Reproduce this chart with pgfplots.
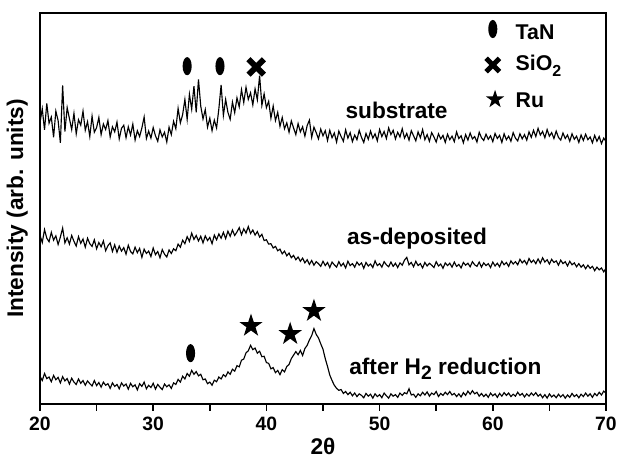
\documentclass[border=0pt]{standalone}
\usepackage{fontspec}
\setmainfont{Liberation Sans}
\usepackage{pgfplots}
\pgfplotsset{compat=1.18}
\pgfdeclareplotmark{tanell}{%
  \pgfpathellipse{\pgfpointorigin}{\pgfqpoint{0.5\pgfplotmarksize}{0pt}}{\pgfqpoint{0pt}{\pgfplotmarksize}}%
  \pgfusepathqfill}
\pgfdeclareplotmark{boldx}{%
  \pgfsetlinewidth{0.75\pgfplotmarksize}\pgfsetbuttcap
  \pgfpathmoveto{\pgfqpoint{-\pgfplotmarksize}{-\pgfplotmarksize}}%
  \pgfpathlineto{\pgfqpoint{\pgfplotmarksize}{\pgfplotmarksize}}%
  \pgfpathmoveto{\pgfqpoint{-\pgfplotmarksize}{\pgfplotmarksize}}%
  \pgfpathlineto{\pgfqpoint{\pgfplotmarksize}{-\pgfplotmarksize}}%
  \pgfusepathqstroke}
\pgfdeclareplotmark{fstar}{%
  \pgfpathmoveto{\pgfqpoint{0pt}{\pgfplotmarksize}}%
  \pgfpathlineto{\pgfqpoint{-0.2245\pgfplotmarksize}{0.3090\pgfplotmarksize}}%
  \pgfpathlineto{\pgfqpoint{-0.9511\pgfplotmarksize}{0.3090\pgfplotmarksize}}%
  \pgfpathlineto{\pgfqpoint{-0.3633\pgfplotmarksize}{-0.1180\pgfplotmarksize}}%
  \pgfpathlineto{\pgfqpoint{-0.5878\pgfplotmarksize}{-0.8090\pgfplotmarksize}}%
  \pgfpathlineto{\pgfqpoint{0pt}{-0.382\pgfplotmarksize}}%
  \pgfpathlineto{\pgfqpoint{0.5878\pgfplotmarksize}{-0.8090\pgfplotmarksize}}%
  \pgfpathlineto{\pgfqpoint{0.3633\pgfplotmarksize}{-0.1180\pgfplotmarksize}}%
  \pgfpathlineto{\pgfqpoint{0.9511\pgfplotmarksize}{0.3090\pgfplotmarksize}}%
  \pgfpathlineto{\pgfqpoint{0.2245\pgfplotmarksize}{0.3090\pgfplotmarksize}}%
  \pgfpathclose
  \pgfusepathqfill}
\newcommand{\lblfont}{\fontsize{17}{17}\selectfont\bfseries}
\newcommand{\legfont}{\fontsize{16}{16}\selectfont\bfseries}
\begin{document}
\begin{tikzpicture}
\path[use as bounding box] (-30pt,-43.5pt) rectangle (434.25pt,303pt);
\begin{axis}[
  scale only axis, width=424.5pt, height=293.25pt,
  xmin=20, xmax=70, ymin=0, ymax=100,
  axis line style={line width=1.3pt},
  xtick={20,30,40,50,60,70}, minor xtick={25,35,45,55,65},
  ytick=\empty,
  tick align=outside, xtick pos=bottom,
  major tick length=5pt, minor tick length=5pt,
  every tick/.style={line width=1.2pt, black},
  /pgf/number format/assume math mode=true,
  ticklabel style={font=\fontsize{14.5}{14.5}\selectfont\bfseries},
  xticklabel style={yshift=-1pt},
  xlabel={2θ},
  xlabel style={font=\fontsize{17}{17}\selectfont\bfseries, at={(axis description cs:0.5,0)}, anchor=center, yshift=-32pt},
  ylabel={Intensity (arb. units)},
  ylabel style={font=\fontsize{17}{17}\selectfont\bfseries, at={(axis description cs:0,0.5)}, anchor=center, rotate=0, yshift=17pt},
  clip=false,
]
% substrate
\addplot[black, line width=0.85pt, mark=none] coordinates {
(20.0,72.0)(20.2,75.5)(20.4,70.1)(20.6,76.9)(20.8,71.8)(21.0,73.4)(21.2,68.2)(21.4,74.9)(21.6,72.5)(21.8,66.8)
(22.0,81.5)(22.2,69.7)(22.4,75.8)(22.6,73.0)(22.8,70.2)(23.0,74.3)(23.2,69.1)(23.4,72.7)(23.6,71.3)(23.8,74.9)
(24.0,70.0)(24.2,72.2)(24.4,68.4)(24.6,73.6)(24.8,69.5)(25.0,70.7)(25.2,73.3)(25.4,68.9)(25.6,71.6)(25.8,70.2)
(26.0,72.5)(26.2,68.3)(26.4,70.9)(26.6,69.6)(26.8,72.1)(27.0,67.8)(27.2,70.5)(27.4,71.3)(27.6,68.1)(27.8,70.9)
(28.0,68.8)(28.2,71.6)(28.4,67.5)(28.6,69.9)(28.8,68.4)(29.0,70.6)(29.2,73.4)(29.4,67.9)(29.6,69.8)(29.8,68.0)
(30.0,70.7)(30.2,68.6)(30.4,67.2)(30.6,70.1)(30.8,68.3)(31.0,69.5)(31.2,67.0)(31.4,70.8)(31.6,68.9)(31.8,72.3)
(32.0,70.4)(32.2,75.6)(32.4,71.9)(32.6,74.0)(32.8,77.9)(33.0,72.8)(33.2,79.2)(33.4,75.4)(33.6,81.3)(33.8,74.6)
(34.0,83.0)(34.2,76.2)(34.4,72.9)(34.6,75.3)(34.8,70.8)(35.0,73.1)(35.2,69.9)(35.4,72.6)(35.6,70.6)(35.8,75.5)
(36.0,81.6)(36.2,73.8)(36.4,77.9)(36.6,74.6)(36.8,72.8)(37.0,77.2)(37.2,74.5)(37.4,78.3)(37.6,76.0)(37.8,80.4)
(38.0,77.1)(38.2,81.0)(38.4,77.9)(38.6,79.6)(38.8,76.5)(39.0,80.6)(39.2,77.8)(39.4,84.0)(39.6,76.4)(39.8,79.3)
(40.0,75.8)(40.2,77.4)(40.4,73.1)(40.6,76.2)(40.8,72.5)(41.0,74.6)(41.2,71.0)(41.4,73.3)(41.6,70.4)(41.8,71.9)
(42.0,69.5)(42.2,72.4)(42.4,70.6)(42.6,68.9)(42.8,71.7)(43.0,69.6)(43.2,70.9)(43.4,68.5)(43.6,71.2)(43.8,72.6)
(44.0,68.2)(44.2,70.8)(44.4,69.4)(44.6,67.8)(44.8,70.3)(45.0,68.6)(45.2,69.9)(45.4,67.4)(45.6,70.0)(45.8,68.1)
(46.0,69.3)(46.2,67.0)(46.4,69.8)(46.6,68.4)(46.8,67.2)(47.0,70.1)(47.2,68.0)(47.4,69.4)(47.6,67.1)(47.8,68.8)
(48.0,67.6)(48.2,70.0)(48.4,68.2)(48.6,66.9)(48.8,69.2)(49.0,67.7)(49.2,69.8)(49.4,68.0)(49.6,69.1)(49.8,67.3)
(50.0,70.2)(50.2,68.4)(50.4,69.7)(50.6,67.9)(50.8,70.6)(51.0,68.9)(51.2,70.0)(51.4,67.8)(51.6,69.5)(51.8,68.3)
(52.0,70.4)(52.2,68.0)(52.4,69.2)(52.6,67.5)(52.8,69.9)(53.0,68.6)(53.2,67.3)(53.4,69.6)(53.6,68.1)(53.8,70.2)
(54.0,67.6)(54.2,68.9)(54.4,67.2)(54.6,69.4)(54.8,68.3)(55.0,67.0)(55.2,69.1)(55.4,67.8)(55.6,68.7)(55.8,66.9)
(56.0,69.0)(56.2,67.6)(56.4,68.5)(56.6,67.1)(56.8,69.6)(57.0,67.9)(57.2,68.6)(57.4,66.8)(57.6,68.9)(57.8,67.5)
(58.0,69.3)(58.2,67.8)(58.4,68.4)(58.6,67.0)(58.8,69.5)(59.0,68.1)(59.2,67.4)(59.4,69.0)(59.6,67.7)(59.8,68.6)
(60.0,67.1)(60.2,69.2)(60.4,67.9)(60.6,68.7)(60.8,66.9)(61.0,69.1)(61.2,67.6)(61.4,68.5)(61.6,67.2)(61.8,69.4)
(62.0,68.0)(62.2,67.3)(62.4,69.1)(62.6,67.8)(62.8,68.9)(63.0,67.5)(63.2,69.6)(63.4,68.2)(63.6,70.0)(63.8,68.4)
(64.0,70.5)(64.2,68.8)(64.4,69.7)(64.6,68.1)(64.8,70.2)(65.0,68.5)(65.2,69.4)(65.4,67.9)(65.6,69.8)(65.8,68.2)
(66.0,67.5)(66.2,69.3)(66.4,67.9)(66.6,68.8)(66.8,67.2)(67.0,69.1)(67.2,67.7)(67.4,68.5)(67.6,66.9)(67.8,68.8)
(68.0,67.4)(68.2,69.0)(68.4,67.6)(68.6,68.3)(68.8,66.8)(69.0,68.7)(69.2,67.2)(69.4,68.4)(69.6,66.6)(69.8,68.0)
(70.0,67.1)
};
% as-deposited
\addplot[black, line width=0.85pt, mark=none] coordinates {
(20.0,43.2)(20.2,41.3)(20.4,44.6)(20.6,42.4)(20.8,41.5)(21.0,43.9)(21.2,41.9)(21.4,43.0)(21.6,40.8)(21.8,42.7)
(22.0,45.0)(22.2,41.2)(22.4,42.5)(22.6,40.9)(22.8,43.1)(23.0,41.6)(23.2,40.4)(23.4,42.8)(23.6,41.1)(23.8,42.2)
(24.0,40.1)(24.2,42.4)(24.4,41.0)(24.6,40.3)(24.8,42.0)(25.0,39.7)(25.2,41.3)(25.4,40.2)(25.6,41.7)(25.8,39.2)
(26.0,40.5)(26.2,41.2)(26.4,39.0)(26.6,40.7)(26.8,38.8)(27.0,40.4)(27.2,39.1)(27.4,40.0)(27.6,38.3)(27.8,40.6)
(28.0,39.0)(28.2,38.4)(28.4,40.1)(28.6,38.7)(28.8,39.8)(29.0,37.5)(29.2,39.6)(29.4,38.5)(29.6,39.1)(29.8,37.7)
(30.0,39.9)(30.2,38.2)(30.4,39.0)(30.6,37.4)(30.8,39.5)(31.0,38.3)(31.2,37.6)(31.4,39.4)(31.6,38.5)(31.8,39.7)
(32.0,39.2)(32.2,40.9)(32.4,40.1)(32.6,41.9)(32.8,41.0)(33.0,42.8)(33.2,41.6)(33.4,43.7)(33.6,42.1)(33.8,43.1)
(34.0,41.7)(34.2,42.9)(34.4,41.2)(34.6,43.0)(34.8,41.8)(35.0,42.6)(35.2,41.0)(35.4,43.2)(35.6,42.0)(35.8,43.5)
(36.0,42.4)(36.2,43.9)(36.4,42.3)(36.6,44.2)(36.8,42.9)(37.0,44.5)(37.2,43.1)(37.4,44.0)(37.6,45.1)(37.8,43.3)
(38.0,44.8)(38.2,43.7)(38.4,45.4)(38.6,43.6)(38.8,44.5)(39.0,43.2)(39.2,44.1)(39.4,42.7)(39.6,43.4)(39.8,41.8)
(40.0,42.0)(40.2,40.9)(40.4,41.0)(40.6,39.9)(40.8,40.3)(41.0,39.2)(41.2,39.6)(41.4,38.4)(41.6,39.1)(41.8,37.9)
(42.0,38.6)(42.2,37.4)(42.4,38.0)(42.6,36.9)(42.8,37.6)(43.0,36.5)(43.2,37.3)(43.4,36.1)(43.6,36.9)(43.8,35.7)
(44.0,36.7)(44.2,35.5)(44.4,36.4)(44.6,35.9)(44.8,35.2)(45.0,36.5)(45.2,35.4)(45.4,36.2)(45.6,34.9)(45.8,36.3)
(46.0,35.6)(46.2,35.0)(46.4,36.4)(46.6,35.3)(46.8,36.0)(47.0,34.8)(47.2,36.5)(47.4,35.4)(47.6,35.9)(47.8,35.0)
(48.0,36.3)(48.2,35.5)(48.4,36.1)(48.6,34.7)(48.8,36.2)(49.0,35.3)(49.2,35.8)(49.4,34.9)(49.6,36.6)(49.8,35.4)
(50.0,35.9)(50.2,35.0)(50.4,36.4)(50.6,35.6)(50.8,35.1)(51.0,36.3)(51.2,35.2)(51.4,36.0)(51.6,34.9)(51.8,36.1)
(52.0,35.5)(52.2,36.8)(52.4,37.5)(52.6,35.6)(52.8,36.2)(53.0,35.1)(53.2,36.5)(53.4,35.4)(53.6,35.9)(53.8,34.8)
(54.0,36.2)(54.2,35.3)(54.4,36.0)(54.6,35.5)(54.8,34.9)(55.0,36.4)(55.2,35.3)(55.4,35.8)(55.6,34.7)(55.8,36.1)
(56.0,35.4)(56.2,36.0)(56.4,35.0)(56.6,36.3)(56.8,35.2)(57.0,35.7)(57.2,34.8)(57.4,36.2)(57.6,35.5)(57.8,36.0)
(58.0,35.1)(58.2,36.4)(58.4,35.6)(58.6,35.2)(58.8,36.3)(59.0,35.0)(59.2,36.1)(59.4,35.4)(59.6,35.9)(59.8,34.9)
(60.0,36.3)(60.2,35.3)(60.4,36.0)(60.6,35.1)(60.8,36.5)(61.0,35.6)(61.2,36.2)(61.4,35.2)(61.6,36.6)(61.8,35.8)
(62.0,36.4)(62.2,35.6)(62.4,37.0)(62.6,36.1)(62.8,36.7)(63.0,35.7)(63.2,37.2)(63.4,36.2)(63.6,36.8)(63.8,35.9)
(64.0,37.1)(64.2,36.0)(64.4,37.4)(64.6,36.3)(64.8,36.9)(65.0,35.8)(65.2,37.0)(65.4,36.2)(65.6,36.6)(65.8,35.5)
(66.0,36.8)(66.2,35.9)(66.4,36.4)(66.6,35.3)(66.8,36.5)(67.0,35.6)(67.2,36.1)(67.4,35.1)(67.6,35.9)(67.8,35.0)
(68.0,35.6)(68.2,34.6)(68.4,35.5)(68.6,34.7)(68.8,35.2)(69.0,34.1)(69.2,35.0)(69.4,34.3)(69.6,34.8)(69.8,33.8)
(70.0,34.7)
};
% after H2 reduction
\addplot[black, line width=0.85pt, mark=none] coordinates {
(20.0,7.1)(20.2,6.0)(20.4,7.8)(20.6,6.5)(20.8,6.9)(21.0,5.7)(21.2,7.3)(21.4,6.2)(21.6,6.8)(21.8,5.4)
(22.0,7.0)(22.2,5.9)(22.4,6.5)(22.6,5.1)(22.8,6.6)(23.0,5.6)(23.2,5.0)(23.4,6.4)(23.6,5.3)(23.8,6.0)
(24.0,4.8)(24.2,5.9)(24.4,5.2)(24.6,4.6)(24.8,6.0)(25.0,4.7)(25.2,5.5)(25.4,4.3)(25.6,5.6)(25.8,4.8)
(26.0,5.2)(26.2,4.0)(26.4,5.4)(26.6,4.5)(26.8,5.0)(27.0,3.9)(27.2,5.4)(27.4,4.6)(27.6,5.1)(27.8,3.8)
(28.0,5.3)(28.2,4.4)(28.4,4.9)(28.6,3.6)(28.8,5.2)(29.0,4.5)(29.2,5.6)(29.4,3.9)(29.6,4.8)(29.8,4.2)
(30.0,5.3)(30.2,3.8)(30.4,5.0)(30.6,4.3)(30.8,3.7)(31.0,5.1)(31.2,4.4)(31.4,4.9)(31.6,4.0)(31.8,5.4)
(32.0,5.0)(32.2,6.3)(32.4,5.6)(32.6,7.1)(32.8,6.4)(33.0,7.8)(33.2,7.1)(33.4,8.6)(33.6,7.6)(33.8,8.3)
(34.0,7.2)(34.2,7.6)(34.4,6.2)(34.6,6.4)(34.8,5.2)(35.0,5.6)(35.2,4.8)(35.4,6.1)(35.6,5.7)(35.8,6.9)
(36.0,6.4)(36.2,7.5)(36.4,7.0)(36.6,8.2)(36.8,7.6)(37.0,8.9)(37.2,8.4)(37.4,9.8)(37.6,9.5)(37.8,11.2)
(38.0,11.5)(38.2,13.1)(38.4,13.6)(38.6,15.0)(38.8,13.9)(39.0,14.3)(39.2,13.0)(39.4,13.5)(39.6,12.1)(39.8,12.2)
(40.0,10.6)(40.2,10.4)(40.4,9.0)(40.6,9.3)(40.8,8.0)(41.0,8.6)(41.2,7.5)(41.4,8.8)(41.6,8.2)(41.8,9.6)
(42.0,10.1)(42.2,11.6)(42.4,12.5)(42.6,13.4)(42.8,12.6)(43.0,13.7)(43.2,12.4)(43.4,14.2)(43.6,15.0)(43.8,16.4)
(44.0,17.5)(44.2,19.3)(44.4,17.8)(44.6,16.9)(44.8,15.4)(45.0,14.0)(45.2,11.6)(45.4,9.6)(45.6,7.4)(45.8,6.0)
(46.0,4.8)(46.2,4.0)(46.4,3.5)(46.6,3.7)(46.8,2.7)(47.0,3.2)(47.2,2.4)(47.4,3.0)(47.6,2.1)(47.8,2.8)
(48.0,1.9)(48.2,2.6)(48.4,2.2)(48.6,1.6)(48.8,2.7)(49.0,2.0)(49.2,2.5)(49.4,1.5)(49.6,2.6)(49.8,1.9)
(50.0,2.4)(50.2,1.6)(50.4,2.8)(50.6,2.1)(50.8,1.5)(51.0,2.6)(51.2,2.0)(51.4,2.4)(51.6,1.7)(51.8,2.8)
(52.0,2.2)(52.2,2.9)(52.4,2.6)(52.6,3.9)(52.8,2.3)(53.0,2.5)(53.2,1.7)(53.4,2.6)(53.6,2.1)(53.8,3.0)
(54.0,2.3)(54.2,3.1)(54.4,2.0)(54.6,2.8)(54.8,2.4)(55.0,3.2)(55.2,1.9)(55.4,2.7)(55.6,2.2)(55.8,3.0)
(56.0,2.4)(56.2,3.2)(56.4,2.3)(56.6,2.7)(56.8,1.9)(57.0,2.6)(57.2,1.8)(57.4,2.9)(57.6,2.2)(57.8,3.3)
(58.0,2.5)(58.2,3.4)(58.4,2.6)(58.6,3.0)(58.8,2.0)(59.0,2.7)(59.2,1.9)(59.4,2.5)(59.6,1.7)(59.8,2.8)
(60.0,2.1)(60.2,2.6)(60.4,1.7)(60.6,2.7)(60.8,2.0)(61.0,2.9)(61.2,2.2)(61.4,2.8)(61.6,1.9)(61.8,2.5)
(62.0,2.0)(62.2,3.0)(62.4,2.2)(62.6,2.7)(62.8,1.8)(63.0,2.6)(63.2,2.0)(63.4,2.8)(63.6,2.2)(63.8,2.9)
(64.0,2.0)(64.2,2.5)(64.4,1.6)(64.6,2.4)(64.8,1.5)(65.0,2.6)(65.2,1.8)(65.4,2.3)(65.6,1.6)(65.8,2.5)
(66.0,1.8)(66.2,2.4)(66.4,1.5)(66.6,2.3)(66.8,1.7)(67.0,2.7)(67.2,1.9)(67.4,2.4)(67.6,1.6)(67.8,2.5)
(68.0,1.9)(68.2,2.8)(68.4,2.0)(68.6,2.6)(68.8,1.7)(69.0,2.7)(69.2,2.1)(69.4,3.0)(69.6,2.3)(69.8,3.3)
(70.0,2.7)
};
% peak markers
\addplot[only marks, mark=tanell, mark size=6.8pt, black] coordinates {(33.0,86.4)(35.9,86.4)(33.3,13.0)(60.0,95.9)};
\addplot[only marks, mark=boldx, mark size=5.8pt, black] coordinates {(39.1,86.2)};
\addplot[only marks, mark=boldx, mark size=5.0pt, black] coordinates {(60.0,86.7)};
\addplot[only marks, mark=fstar, mark size=9.2pt, black] coordinates {(38.64,20.0)(42.1,17.9)(44.2,23.8)};
\addplot[only marks, mark=fstar, mark size=7.2pt, black] coordinates {(60.2,77.9)};
% labels
\node[anchor=base, font=\lblfont] at (axis cs:51.5,73.1) {substrate};
\node[anchor=base, font=\lblfont] at (axis cs:53.3,40.9) {as-deposited};
\node[anchor=base west, font=\lblfont, inner sep=0pt] at (axis cs:47.3,7.6) {after H\raisebox{-0.45ex}{\fontsize{14.5}{14.5}\selectfont 2} reduction};
\node[anchor=west, font=\legfont, inner sep=0pt] at (axis cs:62.0,95.0) {TaN};
\node[anchor=west, font=\legfont, inner sep=0pt] at (axis cs:62.0,86.5) {SiO\raisebox{-0.55ex}{\fontsize{12}{12}\selectfont 2}};
\node[anchor=west, font=\legfont, inner sep=0pt] at (axis cs:62.0,77.8) {Ru};
\end{axis}
\end{tikzpicture}
\end{document}
